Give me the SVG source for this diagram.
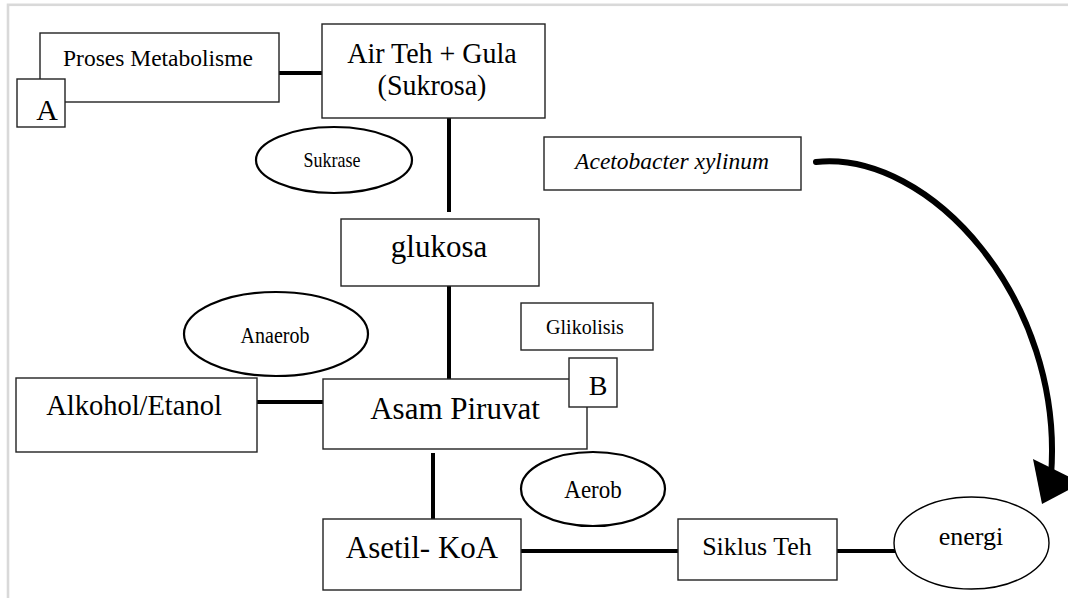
<svg xmlns="http://www.w3.org/2000/svg" width="1068" height="598" viewBox="0 0 1068 598">
<style>
.box{fill:#fff;stroke:#222;stroke-width:1.4}
.ell{fill:#fff;stroke:#000;stroke-width:2.2}
.ell2{fill:#fff;stroke:#000;stroke-width:1.4}
.conn{stroke:#000;stroke-width:4;fill:none}
text{font-family:"Liberation Serif","Times New Roman",serif;fill:#000;text-anchor:middle}
</style>
<rect x="0" y="0" width="1068" height="598" fill="#fff"/>
<rect x="8" y="4.8" width="1100" height="700" fill="#fff" stroke="#d9d9d9" stroke-width="2.6"/>
<g id="connectors">
<line class="conn" x1="279" y1="73" x2="322" y2="73"/>
<line class="conn" x1="449" y1="118" x2="449" y2="212"/>
<line class="conn" x1="449" y1="286" x2="449" y2="379"/>
<line class="conn" x1="257" y1="402" x2="323" y2="402"/>
<line class="conn" x1="433" y1="453" x2="433" y2="519"/>
<line class="conn" x1="521" y1="551" x2="678" y2="551"/>
<line class="conn" x1="837" y1="551" x2="896" y2="551"/>
<path d="M816,162 C930,150 1065,300 1051,476" fill="none" stroke="#000" stroke-width="6" stroke-linecap="round"/>
<polygon points="1033,459 1042,504 1082,483" fill="#000"/>
</g>
<g id="proses"><rect class="box" x="40" y="33" width="239" height="69"/><text x="158" y="66" font-size="23.5">Proses Metabolisme</text></g>
<g id="labelA"><rect class="box" x="17" y="79" width="48" height="48"/><text x="47" y="120" font-size="30">A</text></g>
<g id="airteh"><rect class="box" x="322" y="24" width="223" height="94"/><text transform="translate(432,63) scale(1,1.06)" font-size="28">Air Teh + Gula</text><text transform="translate(432,95) scale(1,1.06)" font-size="28">(Sukrosa)</text></g>
<g id="sukrase"><ellipse class="ell" cx="334" cy="160" rx="78" ry="33"/><text transform="translate(332,167) scale(1,1.12)" font-size="18">Sukrase</text></g>
<g id="acetobacter"><rect class="box" x="544" y="137" width="257" height="53"/><text x="672" y="169" font-size="23.5" font-style="italic">Acetobacter xylinum</text></g>
<g id="glukosa"><rect class="box" x="341" y="219" width="198" height="67"/><text x="439" y="257" font-size="31">glukosa</text></g>
<g id="anaerob"><ellipse class="ell" cx="276" cy="334" rx="92" ry="42"/><text transform="translate(275,343) scale(1,1.12)" font-size="20">Anaerob</text></g>
<g id="glikolisis"><rect class="box" x="521" y="303" width="132" height="47"/><text transform="translate(585,334) scale(1,1.1)" font-size="20">Glikolisis</text></g>
<g id="alkohol"><rect class="box" x="16" y="378" width="241" height="74"/><text x="134" y="415" font-size="28.5">Alkohol/Etanol</text></g>
<g id="asam"><rect class="box" x="323" y="379" width="264" height="70"/><text x="455" y="419" font-size="31">Asam Piruvat</text></g>
<g id="labelB"><rect class="box" x="569" y="358" width="48" height="49"/><text x="598" y="395" font-size="28">B</text></g>
<g id="aerob"><ellipse class="ell" cx="593" cy="489" rx="72" ry="37"/><text transform="translate(593,498) scale(1,1.1)" font-size="23">Aerob</text></g>
<g id="asetil"><rect class="box" x="323" y="519" width="198" height="71"/><text x="422" y="558" font-size="31">Asetil- KoA</text></g>
<g id="siklus"><rect class="box" x="678" y="519" width="159" height="61"/><text x="757" y="555" font-size="26">Siklus Teh</text></g>
<g id="energi"><ellipse class="ell2" cx="971.5" cy="543" rx="77.5" ry="46"/><text x="971" y="545" font-size="26">energi</text></g>
</svg>
